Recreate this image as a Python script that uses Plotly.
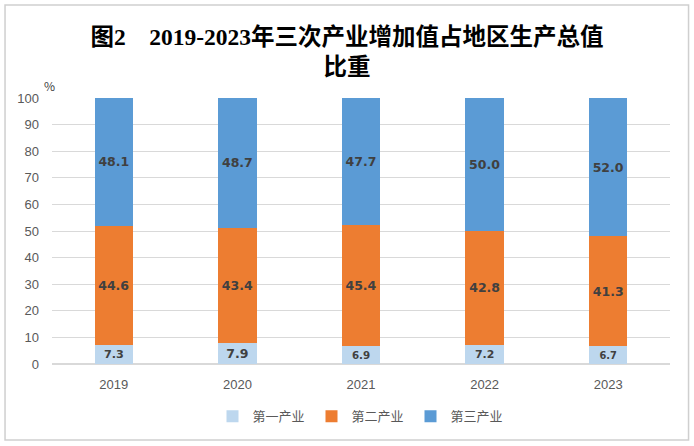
import plotly.graph_objects as go

# Chart data
years = ['2019', '2020', '2021', '2022', '2023']
primary = [7.3, 7.9, 6.9, 7.2, 6.7]
secondary = [44.6, 43.4, 45.4, 42.8, 41.3]
tertiary = [48.1, 48.7, 47.7, 50.0, 52.0]

series = [
    ('第一产业', primary, '#BDD7EE'),
    ('第二产业', secondary, '#ED7D31'),
    ('第三产业', tertiary, '#5B9BD5'),
]

fig = go.Figure()
for name, vals, color in series:
    fig.add_trace(go.Bar(x=years, y=vals, name=name, marker_color=color,
                         marker_line_width=0,
                         text=vals, texttemplate='<b>%{y:.1f}</b>',
                         textposition='inside', insidetextanchor='middle',
                         textfont=dict(color='#404040', size=12.5,
                                       family='DejaVu Sans, Noto Sans CJK SC'),
                         hoverinfo='skip'))

fig.update_layout(
    barmode='stack',
    bargap=0.69,
    width=694, height=446,
    paper_bgcolor='white', plot_bgcolor='white',
    margin=dict(l=52, r=24, t=98, b=82),
    title=dict(text='<b>图2　2019-2023年三次产业增加值占地区生产总值<br>比重</b>',
               x=0.5, xanchor='center', y=0.90, yanchor='top',
               font=dict(family='Liberation Serif, Noto Sans CJK SC', size=23.5, color='black')),
    legend=dict(orientation='h', x=0.5, xanchor='center', y=-0.14, yanchor='top',
                font=dict(size=13, color='#595959', family='Noto Sans CJK SC'),
                traceorder='normal', itemwidth=30,
                entrywidth=54, entrywidthmode='pixels'),
    font=dict(family='Noto Sans CJK SC', color='#595959'),
    shapes=[dict(type='rect', xref='paper', yref='paper',
                 x0=-0.076, x1=1.03, y0=-0.286, y1=1.35,
                 line=dict(color='#CFCFCF', width=1.5))],
    annotations=[dict(text='%', xref='paper', yref='paper', x=-0.016, y=1.085,
                      showarrow=False, font=dict(size=12, color='#404040'))],
)
fig.update_xaxes(showline=False, ticklabelstandoff=11,
                 tickfont=dict(size=13, color='#595959',
                               family='Liberation Sans, Noto Sans CJK SC'))
fig.update_yaxes(range=[0, 100], dtick=10, gridcolor='#D9D9D9', zeroline=True,
                 zerolinecolor='#D9D9D9', ticks='', ticklabelstandoff=12,
                 tickfont=dict(size=13, color='#595959',
                               family='Liberation Sans, Noto Sans CJK SC'))

# drop the default page margin so the figure sits at the window origin
fig.write_html("out.html", config={'displayModeBar': False},
               post_script="document.body.style.margin='0';")
